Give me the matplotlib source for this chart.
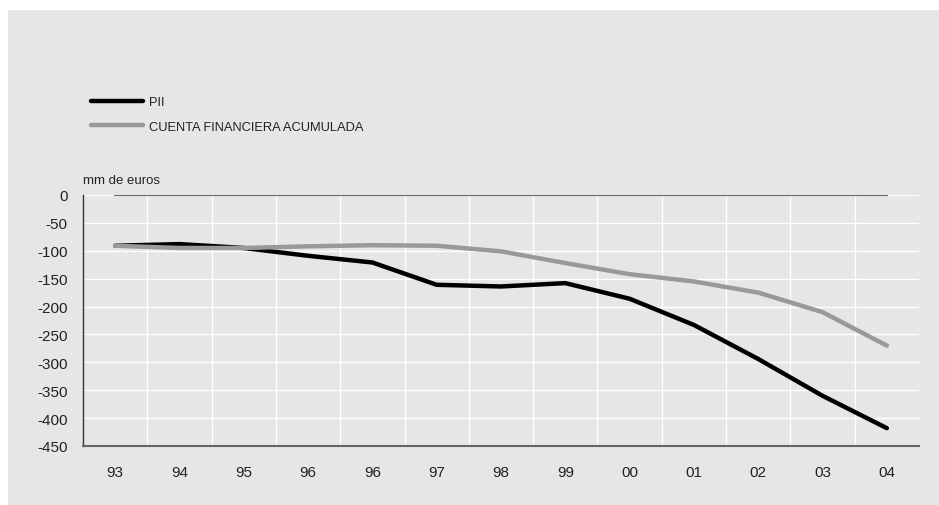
import matplotlib
matplotlib.use("Agg")
import matplotlib.pyplot as plt
from matplotlib.patches import Rectangle
import numpy as np

plt.rcParams['font.family'] = ['Liberation Sans', 'DejaVu Sans']
plt.rcParams['axes.unicode_minus'] = False

# Datos (mm de euros)
years = ["93", "94", "95", "96", "96", "97", "98", "99", "00", "01", "02", "03", "04"]
pii = [-91, -88, -95, -109, -121, -161, -164, -158, -186, -233, -294, -360, -418]
cuenta_fin = [-91, -95, -95, -92, -90, -91, -101, -122, -142, -155, -175, -210, -270]

W, H = 939, 506
fig = plt.figure(figsize=(W / 100, H / 100), dpi=100)
fig.patch.set_facecolor("white")
# panel gris de fondo
fig.patches.append(Rectangle((8 / W, 0), 1 - 8 / W, 1 - 11 / H, transform=fig.transFigure,
                             facecolor="#e6e6e6", edgecolor="none", zorder=-10))

ax = fig.add_axes([83 / W, 1 - 447 / H, (919 - 83) / W, (447 - 196) / H])
ax.set_facecolor("#e6e6e6")

x = np.arange(len(years))
ax.plot(x, np.zeros(len(x)), color="#666666", lw=1.5, zorder=3)
ax.plot(x, pii, color="black", lw=3.2, solid_capstyle="round", zorder=4, label="PII")
ax.plot(x, cuenta_fin, color="#999999", lw=3.2, solid_capstyle="round", zorder=5,
        label="CUENTA FINANCIERA ACUMULADA")

ax.set_xlim(-0.5, len(years) - 0.5)
ax.set_ylim(-450, 0)
ax.set_yticks(np.arange(-450, 1, 50))
ax.set_xticks(x)
ax.set_xticklabels(years)
ax.set_xticks(np.arange(-0.5, len(years), 1), minor=True)
ax.grid(True, which="minor", axis="x", color="white", lw=1)
ax.grid(True, which="major", axis="y", color="white", lw=1)
ax.grid(False, which="major", axis="x")
ax.set_axisbelow(True)
ax.tick_params(which="both", length=0)
ax.tick_params(axis="y", pad=11, labelsize=11, labelcolor="#222222")
ax.tick_params(axis="x", pad=14, labelsize=11, labelcolor="#222222")

for s in ["top", "right"]:
    ax.spines[s].set_visible(False)
ax.spines["left"].set_color("#333333")
ax.spines["left"].set_linewidth(1)
ax.spines["bottom"].set_color("#666666")
ax.spines["bottom"].set_linewidth(1.5)

ax.text(0, 1.035, "mm de euros", transform=ax.transAxes, fontsize=9.5,
        color="#222222", va="bottom", ha="left")

leg = fig.legend(loc="upper left", bbox_to_anchor=(86 / W, 1 - 92 / H), frameon=False,
                 fontsize=9.3, handlelength=4.0, handletextpad=0.5, labelspacing=0.95,
                 borderaxespad=0)
for t in leg.get_texts():
    t.set_color("#222222")

fig.savefig("out.png", dpi=100)
